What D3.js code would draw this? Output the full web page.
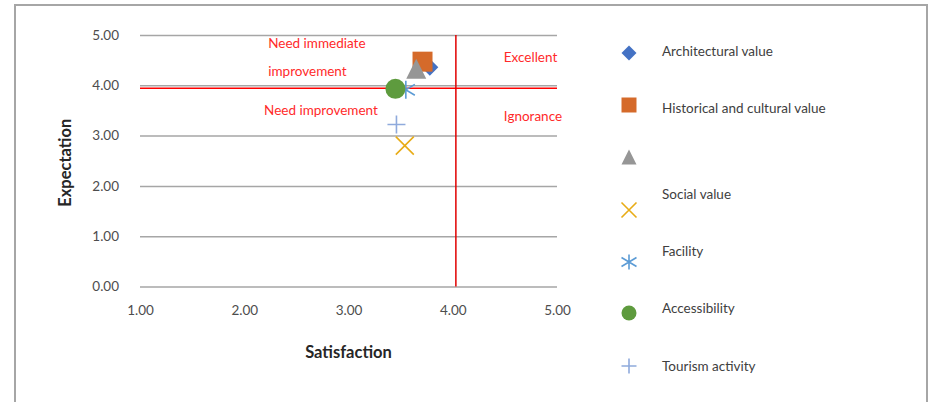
<!DOCTYPE html>
<html>
<head>
<meta charset="utf-8">
<script src="https://cdn.jsdelivr.net/npm/d3@7"></script>
<style>
  html, body { margin: 0; padding: 0; background: #fff; }
  svg { display: block; font-family: Lato, "Noto Sans", sans-serif; }
</style>
</head>
<body>
<svg id="chart" width="935" height="402"></svg>
<script>
// Importance–performance data: satisfaction (x) against expectation (y)
const seriesNames = ["Architectural value", "Historical and cultural value", "", "Social value", "Facility", "Accessibility", "Tourism activity"];
const satisfaction = [3.78, 3.71, 3.65, 3.54, 3.55, 3.45, 3.46];
const expectation  = [4.36, 4.47, 4.33, 2.80, 3.91, 3.93, 3.22];
const markerKinds  = ["diamond", "square", "triangle", "times", "asterisk", "circle", "plus"];
const markerColors = ["#4472C4", "#D56A2A", "#969696", "#E8AC17", "#5B9BD5", "#5E9B3E", "#8FAADC"];

const xTicks = [1, 2, 3, 4, 5];
const yTicks = [0, 1, 2, 3, 4, 5];

// Quadrant dividers (mean satisfaction / mean expectation)
const meanSatisfaction = 4.03;
const meanExpectation = 3.94;

const quadrantLabels = [
  { text: "Need immediate", x: 2.23, y: 4.84 },
  { text: "improvement", x: 2.23, y: 4.28 },
  { text: "Need improvement", x: 2.19, y: 3.50 },
  { text: "Excellent", x: 4.49, y: 4.56 },
  { text: "Ignorance", x: 4.49, y: 3.38 }
];

const FONT = "Lato, 'Noto Sans', sans-serif";
const svg = d3.select("#chart");

// outer frame
svg.append("path")
  .attr("d", "M15,402 V5 H927 V402")
  .attr("fill", "none").attr("stroke", "#A6A6A6").attr("stroke-width", 2);

const x = d3.scaleLinear().domain([1, 5]).range([140, 557]);
const y = d3.scaleLinear().domain([0, 5]).range([286.5, 35]);

// horizontal gridlines + y tick labels
const yAxis = svg.append("g")
  .attr("transform", `translate(${x(1)},0)`)
  .call(d3.axisLeft(y).tickValues(yTicks).tickFormat(d3.format(".2f"))
    .tickSize(-(x(5) - x(1))).tickPadding(21));
yAxis.select(".domain").remove();
yAxis.selectAll(".tick line").attr("stroke", "#A6A6A6").attr("stroke-width", 1.5);
yAxis.selectAll(".tick text").attr("font-size", 13.5).attr("fill", "#4D4D4D")
  .attr("font-family", FONT);

// x tick labels
const xAxis = svg.append("g")
  .attr("transform", `translate(0,${y(0)})`)
  .call(d3.axisBottom(x).tickValues(xTicks).tickFormat(d3.format(".2f"))
    .tickSize(0).tickPadding(19));
xAxis.select(".domain").remove();
xAxis.selectAll(".tick text").attr("font-size", 13.5).attr("fill", "#4D4D4D")
  .attr("font-family", FONT);

// axis titles
svg.append("text")
  .attr("x", x(3)).attr("y", 358)
  .attr("text-anchor", "middle")
  .attr("font-size", 16.5).attr("font-weight", "bold").attr("fill", "#262626")
  .text("Satisfaction");
svg.append("text")
  .attr("transform", `translate(71,${(y(0) + y(5)) / 2 + 2}) rotate(-90)`)
  .attr("text-anchor", "middle")
  .attr("font-size", 16.5).attr("font-weight", "bold").attr("fill", "#262626")
  .text("Expectation");

// quadrant divider lines
svg.append("line")
  .attr("x1", x(1)).attr("x2", x(5))
  .attr("y1", y(meanExpectation)).attr("y2", y(meanExpectation))
  .attr("stroke", "#FF0000").attr("stroke-width", 1.5);
svg.append("line")
  .attr("x1", x(meanSatisfaction)).attr("x2", x(meanSatisfaction))
  .attr("y1", y(5)).attr("y2", y(0))
  .attr("stroke", "#E00000").attr("stroke-width", 1.5);

// quadrant labels
svg.append("g").selectAll("text")
  .data(quadrantLabels)
  .join("text")
  .attr("x", d => x(d.x)).attr("y", d => y(d.y))
  .attr("dy", "0.35em")
  .attr("font-size", 13.5).attr("fill", "#FF2A2A")
  .text(d => d.text);

// marker shapes; size is the full marker width in px
const strokeKinds = new Set(["times", "asterisk", "plus"]);
const shapes = {
  diamond: { draw(c, s) { const r = s / 2; c.moveTo(0, -r); c.lineTo(r, 0); c.lineTo(0, r); c.lineTo(-r, 0); c.closePath(); } },
  square: { draw(c, s) { const r = s / 2; c.rect(-r, -r, s, s); } },
  triangle: { draw(c, s) { const r = s / 2; c.moveTo(0, -r); c.lineTo(r, r); c.lineTo(-r, r); c.closePath(); } },
  circle: { draw(c, s) { const r = s / 2; c.moveTo(r, 0); c.arc(0, 0, r, 0, 2 * Math.PI); } },
  times: { draw(c, s) { const r = s / 2; c.moveTo(-r, -r); c.lineTo(r, r); c.moveTo(r, -r); c.lineTo(-r, r); } },
  asterisk: { draw(c, s) { const r = s / 2; c.moveTo(0, -r); c.lineTo(0, r); c.moveTo(-r, -r * 0.6); c.lineTo(r, r * 0.6); c.moveTo(r, -r * 0.6); c.lineTo(-r, r * 0.6); } },
  plus: { draw(c, s) { const r = s / 2; c.moveTo(0, -r); c.lineTo(0, r); c.moveTo(-r, 0); c.lineTo(r, 0); } }
};

function styleMarker(sel) {
  sel.attr("fill", d => strokeKinds.has(d.kind) ? "none" : d.color)
    .attr("stroke", d => strokeKinds.has(d.kind) ? d.color : "none")
    .attr("stroke-width", 1.6);
}

const points = seriesNames.map((name, i) => ({
  name, sx: satisfaction[i], ey: expectation[i], kind: markerKinds[i], color: markerColors[i]
}));

const plotSizes = { diamond: 17, square: 20, triangle: 20, circle: 20, times: 18, asterisk: 18, plus: 18 };
const legendSizes = { diamond: 15, square: 15, triangle: 15, circle: 15, times: 15, asterisk: 15, plus: 15 };

// data points, in series order so later series sit on top
svg.append("g").selectAll("path")
  .data(points)
  .join("path")
  .attr("transform", d => `translate(${x(d.sx)},${y(d.ey)})`)
  .attr("d", d => d3.symbol().type(shapes[d.kind]).size(plotSizes[d.kind])())
  .call(styleMarker);

// legend
const legendMarkerY = [53, 105, 157, 210, 262, 313, 366];
const legendTextY = [51, 108, 157, 194, 251, 308, 366];
const legend = svg.append("g");
legend.selectAll("path")
  .data(points)
  .join("path")
  .attr("transform", (d, i) => `translate(629,${legendMarkerY[i]})`)
  .attr("d", d => d3.symbol().type(shapes[d.kind]).size(legendSizes[d.kind])())
  .call(styleMarker);
legend.selectAll("text")
  .data(points)
  .join("text")
  .attr("x", 662).attr("y", (d, i) => legendTextY[i])
  .attr("dy", "0.35em")
  .attr("font-size", 13.5).attr("fill", "#404040")
  .text(d => d.name);
</script>
</body>
</html>
